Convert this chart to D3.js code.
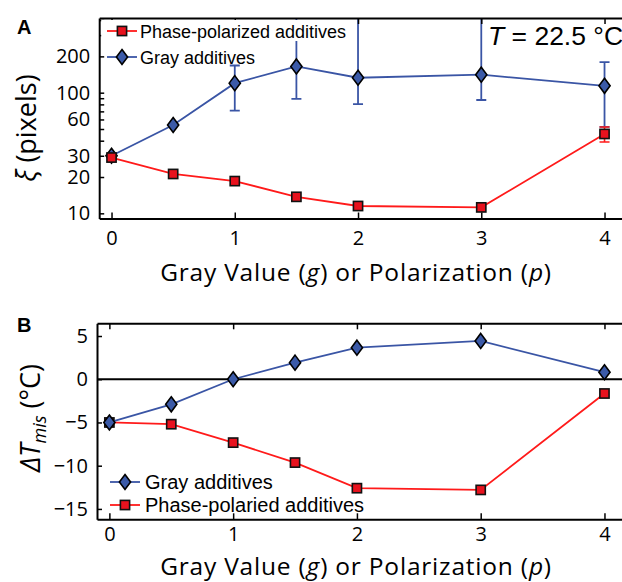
<!DOCTYPE html>
<html>
<head>
<meta charset="utf-8">
<script src="https://cdn.jsdelivr.net/npm/d3@7"></script>
<style>
  html, body { margin: 0; padding: 0; background: #fff; }
  svg { display: block; }
</style>
</head>
<body>
<svg id="chart" width="622" height="582"></svg>
<script>
// ---------- data ----------
const xValues = [0, 0.5, 1, 1.5, 2, 3, 4];
const xTickValues = [0, 1, 2, 3, 4];

// Panel A: correlation length xi (pixels)
const grayXi     = [30, 54, 120, 165, 133, 141, 114];
const grayXiLow  = [null, null, 71, 89, 80.5, 87, 52];
const grayXiHigh = [null, null, 168, 700, 700, 700, 179];
const polXi      = [29, 21.2, 18.5, 13.7, 11.5, 11.2, 45.5];
const polXiLow   = [null, null, null, null, null, null, 39];
const polXiHigh  = [null, null, null, null, null, null, 52];
const xiTickLabels = [10, 20, 30, 60, 100, 200];
const xiMinorTicks = [10, 20, 30, 40, 50, 60, 70, 80, 90, 100, 200, 300, 400];

// Panel B: Delta T_mis (°C)
const grayDT = [-5, -2.9, 0, 1.92, 3.65, 4.43, 0.81];
const polDT  = [-5, -5.2, -7.33, -9.64, -12.6, -12.8, -1.65];
const dtTicks = [-15, -10, -5, 0, 5];

const legendA = ["Phase-polarized additives", "Gray additives"];
const legendB = ["Gray additives", "Phase-polaried additives"];

// ---------- style ----------
const BLUE = "#3a55a5";
const BLUE_FILL = "#3b5aa8";
const RED = "#ff1a1a";
const RED_FILL = "#e8121e";
const tickFont = "'Open Sans', 'Noto Sans', sans-serif";
const legFont = "'Liberation Sans', Arial, sans-serif";

const svg = d3.select("#chart");

function diamond(g, x, y) {
  g.append("path")
    .attr("d", `M${x},${y - 7.5}L${x + 5.6},${y}L${x},${y + 7.5}L${x - 5.6},${y}Z`)
    .attr("fill", BLUE_FILL).attr("stroke", "#000").attr("stroke-width", 1.6)
    .attr("stroke-linejoin", "miter");
}
function square(g, x, y) {
  g.append("rect")
    .attr("x", x - 4.6).attr("y", y - 4.6).attr("width", 9.2).attr("height", 9.2)
    .attr("fill", RED_FILL).attr("stroke", "#111").attr("stroke-width", 1.6);
}

// ================= Panel A =================
const xA = d3.scaleLinear().domain([-0.1, 4.3]).range([99.2, 641.5]);
const yA = d3.scaleLog().domain([9.06, 416]).range([218.5, 18]);
const gA = svg.append("g");

svg.append("defs").append("clipPath").attr("id", "clipA")
  .append("rect").attr("x", xA(-0.1)).attr("y", yA(416))
  .attr("width", xA(4.3) - xA(-0.1)).attr("height", yA(9.06) - yA(416));

const plotA = gA.append("g").attr("clip-path", "url(#clipA)");

// gray error bars
xValues.forEach((x, i) => {
  if (grayXiLow[i] == null) return;
  const px = xA(x);
  plotA.append("line").attr("x1", px).attr("x2", px)
    .attr("y1", yA(grayXiLow[i])).attr("y2", yA(grayXiHigh[i]))
    .attr("stroke", BLUE).attr("stroke-width", 1.8);
  [grayXiLow[i], grayXiHigh[i]].forEach(v => {
    plotA.append("line").attr("x1", px - 5).attr("x2", px + 5)
      .attr("y1", yA(v)).attr("y2", yA(v))
      .attr("stroke", BLUE).attr("stroke-width", 1.8);
  });
});
// gray line
plotA.append("path")
  .datum(xValues.map((x, i) => [x, grayXi[i]]))
  .attr("d", d3.line().x(d => xA(d[0])).y(d => yA(d[1])))
  .attr("fill", "none").attr("stroke", BLUE).attr("stroke-width", 1.8);
xValues.forEach((x, i) => diamond(plotA, xA(x), yA(grayXi[i])));

// pol error bars
xValues.forEach((x, i) => {
  if (polXiLow[i] == null) return;
  const px = xA(x);
  plotA.append("line").attr("x1", px).attr("x2", px)
    .attr("y1", yA(polXiLow[i])).attr("y2", yA(polXiHigh[i]))
    .attr("stroke", RED).attr("stroke-width", 1.6);
  [polXiLow[i], polXiHigh[i]].forEach(v => {
    plotA.append("line").attr("x1", px - 5).attr("x2", px + 5)
      .attr("y1", yA(v)).attr("y2", yA(v))
      .attr("stroke", RED).attr("stroke-width", 1.6);
  });
});
plotA.append("path")
  .datum(xValues.map((x, i) => [x, polXi[i]]))
  .attr("d", d3.line().x(d => xA(d[0])).y(d => yA(d[1])))
  .attr("fill", "none").attr("stroke", RED).attr("stroke-width", 1.8);
xValues.forEach((x, i) => square(plotA, xA(x), yA(polXi[i])));

// axes A
const axBottomA = d3.axisBottom(xA).tickValues(xTickValues).tickSizeInner(-6).tickSizeOuter(0).tickPadding(12).tickFormat(d3.format("d"));
const axTopA = d3.axisTop(xA).tickValues(xTickValues).tickSizeInner(-6).tickSizeOuter(0).tickFormat("");
const axLeftA = d3.axisLeft(yA).tickValues(xiMinorTicks).tickSizeInner(-5).tickSizeOuter(0).tickPadding(9)
  .tickFormat(d => xiTickLabels.includes(d) ? String(d) : "");

function styleAxis(g, fs) {
  g.select(".domain").attr("stroke", "#000").attr("stroke-width", 2);
  g.selectAll(".tick line").attr("stroke", "#000").attr("stroke-width", 1.5);
  g.selectAll(".tick text").attr("font-family", tickFont).attr("font-size", fs).attr("fill", "#000");
}
gA.append("g").attr("transform", `translate(0,${yA(9.06)})`).call(axBottomA).call(g => styleAxis(g, 20));
gA.append("g").attr("transform", `translate(0,${yA(416)})`).call(axTopA).call(g => styleAxis(g, 20));
gA.append("g").attr("transform", `translate(${xA(-0.1)},0)`).call(axLeftA).call(g => styleAxis(g, 20));

// legend A (first row sits on a white box that hides the error bars behind it)
gA.append("rect").attr("x", xA(-0.1) + 2).attr("y", yA(416) + 2).attr("width", 250).attr("height", 21)
  .attr("fill", "#fff");
legendA.forEach((name, i) => {
  const ly = 31 + i * 26;
  const col = i === 0 ? RED : BLUE;
  gA.append("line").attr("x1", 107).attr("x2", 137).attr("y1", ly).attr("y2", ly)
    .attr("stroke", col).attr("stroke-width", 1.8);
  if (i === 0) square(gA, 122, ly); else diamond(gA, 122, ly);
  gA.append("text").attr("x", 140).attr("y", ly + 6.5).text(name)
    .attr("font-family", legFont).attr("font-size", 18).attr("fill", "#000");
});

// T annotation
const tText = gA.append("text").attr("x", 488).attr("y", 45)
  .attr("font-family", legFont).attr("font-size", 26.5).attr("fill", "#000");
tText.append("tspan").attr("font-style", "italic").text("T");
tText.append("tspan").text(" = 22.5 °C");

// panel letter & labels
svg.append("text").attr("x", 17).attr("y", 34).text("A")
  .attr("font-family", legFont).attr("font-weight", "bold").attr("font-size", 20);

const yLabA = svg.append("text").attr("transform", "translate(36,128) rotate(-90)")
  .attr("text-anchor", "middle").attr("font-family", tickFont).attr("font-size", 27);
yLabA.append("tspan").attr("font-style", "italic").text("ξ");
yLabA.append("tspan").text(" (pixels)");

function xLabel(y) {
  const t = svg.append("text").attr("x", 356).attr("y", y).attr("text-anchor", "middle")
    .attr("font-family", tickFont).attr("font-size", 24.5).attr("letter-spacing", 0.8);
  t.append("tspan").text("Gray Value (");
  t.append("tspan").attr("font-style", "italic").text("g");
  t.append("tspan").text(") or Polarization (");
  t.append("tspan").attr("font-style", "italic").text("p");
  t.append("tspan").text(")");
}
xLabel(281);

// ================= Panel B =================
const xB = d3.scaleLinear().domain([-0.1, 4.3]).range([97.0, 641.6]);
const yB = d3.scaleLinear().domain([-16.2, 6.47]).range([519.3, 323.3]);
const gB = svg.append("g");

// zero line
gB.append("line").attr("x1", xB(-0.1)).attr("x2", xB(4.3)).attr("y1", yB(0)).attr("y2", yB(0))
  .attr("stroke", "#000").attr("stroke-width", 1.8);

gB.append("path")
  .datum(xValues.map((x, i) => [x, polDT[i]]))
  .attr("d", d3.line().x(d => xB(d[0])).y(d => yB(d[1])))
  .attr("fill", "none").attr("stroke", RED).attr("stroke-width", 1.8);
xValues.forEach((x, i) => square(gB, xB(x), yB(polDT[i])));

gB.append("path")
  .datum(xValues.map((x, i) => [x, grayDT[i]]))
  .attr("d", d3.line().x(d => xB(d[0])).y(d => yB(d[1])))
  .attr("fill", "none").attr("stroke", BLUE).attr("stroke-width", 1.8);
xValues.forEach((x, i) => diamond(gB, xB(x), yB(grayDT[i])));

const axBottomB = d3.axisBottom(xB).tickValues(xTickValues).tickSizeInner(-6).tickSizeOuter(0).tickPadding(8).tickFormat(d3.format("d"));
const axTopB = d3.axisTop(xB).tickValues(xTickValues).tickSizeInner(-6).tickSizeOuter(0).tickFormat("");
const axLeftB = d3.axisLeft(yB).tickValues(dtTicks).tickSizeInner(-5).tickSizeOuter(0).tickPadding(9)
  .tickFormat(d => d < 0 ? "\u2212" + Math.abs(d) : String(d));
gB.append("g").attr("transform", `translate(0,${yB(-16.2)})`).call(axBottomB).call(g => styleAxis(g, 20));
gB.append("g").attr("transform", `translate(0,${yB(6.47)})`).call(axTopB).call(g => styleAxis(g, 20));
gB.append("g").attr("transform", `translate(${xB(-0.1)},0)`).call(axLeftB).call(g => styleAxis(g, 20));

// legend B
legendB.forEach((name, i) => {
  const ly = 482 + i * 23;
  const col = i === 0 ? BLUE : RED;
  gB.append("line").attr("x1", 110).attr("x2", 140).attr("y1", ly).attr("y2", ly)
    .attr("stroke", col).attr("stroke-width", 1.8);
  if (i === 0) diamond(gB, 125, ly); else square(gB, 125, ly);
  gB.append("text").attr("x", 145).attr("y", ly + 7).text(name)
    .attr("font-family", legFont).attr("font-size", 20).attr("fill", "#000");
});

svg.append("text").attr("x", 17).attr("y", 332).text("B")
  .attr("font-family", legFont).attr("font-weight", "bold").attr("font-size", 20);

const yLabB = svg.append("text").attr("transform", "translate(40,418) rotate(-90)")
  .attr("text-anchor", "middle").attr("font-family", tickFont).attr("font-size", 27);
yLabB.append("tspan").attr("font-style", "italic").text("ΔT");
yLabB.append("tspan").attr("font-style", "italic").attr("font-size", 18).attr("dy", 6).text("mis");
yLabB.append("tspan").attr("dy", -6).text(" (°C)");

xLabel(574.5);
</script>
</body>
</html>
